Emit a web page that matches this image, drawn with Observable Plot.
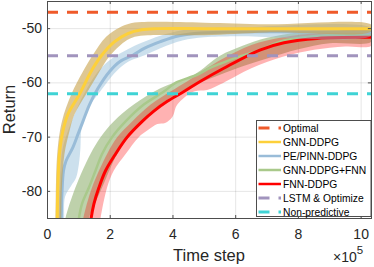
<!DOCTYPE html>
<html>
<head>
<meta charset="utf-8">
<script src="https://cdn.jsdelivr.net/npm/d3@7"></script>
<script src="https://cdn.jsdelivr.net/npm/@observablehq/plot@0.6"></script>
<style>
  body { margin: 0; background: #fff; }
  svg { display: block; }
</style>
</head>
<body>
<script>
// ---- axes ----
const xMax = 10.33;               // time step, ×10^5
const yDomain = [-85, -45];
const xTicks = [0, 2, 4, 6, 8, 10];
const yTicks = [-80, -70, -60, -50];

// ---- reference (dashed) levels ----
const refNames = ["Optimal", "LSTM & Optimize", "Non-predictive"];
const refValues = [-47, -55, -62];
const refColors = ["#ef5a2a", "#a194bd", "#3fd3d5"];

// ---- GNN-DDPG ----
const gnnX = [0.30, 0.31, 0.33, 0.38, 0.49, 0.65, 1.02, 1.39, 1.71, 2.14, 2.56, 3.0, 3.5, 5, 7, 10.33];
const gnnY = [-88, -85, -79.2, -73.1, -68.9, -65.8, -62.1, -57.9, -55.05, -52.4, -50.9, -50.2, -50, -50, -50, -50];
const gnnUpX = [0.24, 0.255, 0.31, 0.46, 0.76, 1.13, 1.44, 1.87, 2.3, 2.6, 3.0, 5, 7, 10.33];
const gnnUpY = [-88, -85, -73.1, -67.1, -62.1, -57.9, -54.9, -51.5, -49.8, -49.1, -48.8, -48.9, -49.2, -49.3];
const gnnLoX = [0.43, 0.44, 0.46, 0.54, 0.70, 0.86, 1.23, 1.66, 1.98, 2.46, 2.78, 3.2, 5, 7, 10.33];
const gnnLoY = [-88, -85, -79.2, -73.1, -68.9, -65.8, -62.1, -57.9, -55.05, -52.4, -51.5, -51.2, -51.2, -50.7, -50.5];

// ---- PE/PINN-DDPG ----
const pinnX = [0.43, 0.44, 0.46, 0.51, 0.59, 0.81, 0.97, 1.13, 1.34, 1.61, 1.98, 2.3, 2.72, 3.1, 3.6, 4.2, 4.9, 6, 8, 10.33];
const pinnY = [-88, -85, -80.5, -76.2, -74.4, -71.9, -69.5, -67.1, -64, -61, -57.9, -56.1, -54.9, -53.6, -52.4, -51.3, -50.8, -50.6, -50.6, -50.6];
const pinnUpX = [0.34, 0.35, 0.41, 0.49, 0.65, 0.86, 1.16, 1.61, 2.03, 2.56, 3.0, 3.6, 4.3, 5, 6, 10.33];
const pinnUpY = [-88, -85, -76.2, -71.9, -68.9, -65.8, -62.1, -57.9, -55.6, -53.8, -52.6, -51.3, -50.3, -49.9, -49.8, -49.9];
const pinnLoX = [0.52, 0.53, 0.56, 0.75, 0.91, 1.0, 1.05, 1.07, 1.15, 1.29, 1.61, 2.19, 2.57, 2.97, 3.6, 4.3, 5, 6, 10.33];
const pinnLoY = [-88, -85, -81, -79.0, -77.5, -75, -72, -69, -66.5, -64.6, -62.1, -57.9, -56.1, -55.2, -53.6, -52.2, -51.6, -51.4, -51.3];

// ---- GNN-DDPG+FNN ----
const gfX = [0.98, 1.0, 1.10, 1.32, 1.53, 1.74, 2.06, 2.49, 3.07, 3.71, 4.08, 4.77, 5.2, 6.16, 6.79, 7.54, 8.9, 10.33];
const gfY = [-86, -85, -82.3, -79.3, -76.2, -73.1, -70, -67.1, -64, -61.6, -60, -58.5, -57.2, -55.1, -53.9, -52.2, -51.2, -51.2];
const gfUpX = [0.55, 0.57, 0.89, 1.37, 1.69, 2.11, 2.75, 3.6, 4.67, 5.5, 6.2, 7, 8, 9, 10.33];
const gfUpY = [-86, -85, -79.3, -73.1, -70, -67.1, -64, -61, -58.5, -55.0, -53.2, -51.7, -50.7, -50.4, -50.4];
const gfLoX = [1.30, 1.32, 1.74, 2.22, 2.59, 3.07, 3.6, 4.46, 5.5, 6.2, 7, 8, 9, 10.33];
const gfLoY = [-86, -85, -79.3, -73.1, -70, -67.1, -64, -61, -58.5, -57.0, -55.5, -53.8, -52.7, -52.4];

// ---- FNN-DDPG ----
const fnnX = [1.37, 1.39, 1.48, 1.64, 1.85, 2.17, 2.54, 3.02, 3.39, 3.82, 4.35, 4.88, 5.62, 6.79, 7.54, 8.6, 10.33];
const fnnY = [-86, -85, -82.3, -79.3, -76.2, -73.1, -70, -67.1, -65.2, -63.4, -61.6, -59.7, -57.3, -53.9, -52.6, -51.8, -51.6];
const fnnUpX = [1.12, 1.14, 1.42, 1.90, 2.22, 2.70, 3.29, 3.92, 4.46, 5.0, 5.6, 6.5, 7.5, 8.5, 10.33];
const fnnUpY = [-86, -85, -79.3, -73.1, -70, -67.1, -64, -61.6, -59.7, -57.6, -55.5, -53.0, -51.6, -50.9, -50.7];
const fnnLoX = [1.67, 1.69, 1.90, 2.11, 2.49, 2.91, 3.18, 3.5, 3.75, 3.98, 4.14, 4.67, 5.09, 5.6, 6.5, 7.5, 8.5, 9.5, 10.33];
const fnnLoY = [-86, -85, -79.3, -76.2, -73.1, -70, -68.8, -67.6, -67.4, -66.3, -64, -61.6, -61.3, -60.0, -57.3, -55.2, -53.9, -53.3, -53.1];

// ---- legend ----
const legendNames = ["Optimal", "GNN-DDPG", "PE/PINN-DDPG", "GNN-DDPG+FNN", "FNN-DDPG", "LSTM & Optimize", "Non-predictive"];
const legendColors = ["#ef5a2a", "#fdd03a", "#99bcd8", "#a9c98b", "#ff0000", "#a194bd", "#3fd3d5"];
const legendDashed = [true, false, false, false, false, true, true];

const pts = (xs, ys) => xs.map((x, i) => ({x, y: ys[i]}));
const poly = (ux, uy, lx, ly) => [...pts(ux, uy), ...pts(lx, ly).reverse()];

const band = (data, fill, op) => Plot.line(data, {x: "x", y: "y", fill, fillOpacity: op, stroke: "none", curve: "catmull-rom", clip: true});
const mean = (data, stroke, w) => Plot.line(data, {x: "x", y: "y", stroke, strokeWidth: w, curve: "catmull-rom", clip: true});

const ml = 47, mr = 3, mt = 1, mb = 49, W = 374, H = 267;
const axisColor = "#4d4d4d";

const svg = Plot.plot({
  width: W, height: H,
  marginLeft: ml, marginRight: mr, marginTop: mt, marginBottom: mb,
  style: {fontFamily: "'Liberation Sans', Arial, Helvetica, sans-serif", fontSize: "14px", color: "#262626", background: "#fff"},
  x: {domain: [0, xMax]},
  y: {domain: yDomain},
  marks: [
    Plot.gridX(xTicks, {stroke: "#000", strokeOpacity: 0.1}),
    Plot.gridY(yTicks, {stroke: "#000", strokeOpacity: 0.1}),
    band(poly(gfUpX, gfUpY, gfLoX, gfLoY), "#a3bd87", 0.7),
    band(poly(fnnUpX, fnnUpY, fnnLoX, fnnLoY), "#ff0000", 0.3),
    mean(pts(gfX, gfY), "#a9c98b", 2.5),
    mean(pts(fnnX, fnnY), "#ff0000", 3),
    band(poly(pinnUpX, pinnUpY, pinnLoX, pinnLoY), "#8fbad6", 0.45),
    mean(pts(pinnX, pinnY), "#99bcd8", 3),
    band(poly(gnnUpX, gnnUpY, gnnLoX, gnnLoY), "#c8a24a", 0.6),
    mean(pts(gnnX, gnnY), "#fdd03a", 3),
    Plot.ruleY(refValues, {y: d => d, stroke: (d, i) => refColors[i], strokeWidth: 3, strokeDasharray: "11,9"}),
    Plot.ruleX(xTicks, {x: d => d, y1: yDomain[0], y2: yDomain[0] + 0.55, stroke: axisColor}),
    Plot.ruleX(xTicks, {x: d => d, y1: yDomain[1] - 0.55, y2: yDomain[1], stroke: axisColor}),
    Plot.ruleY(yTicks, {y: d => d, x1: 0, x2: 0.1, stroke: axisColor}),
    Plot.ruleY(yTicks, {y: d => d, x1: xMax - 0.1, x2: xMax, stroke: axisColor}),
    Plot.frame({stroke: axisColor}),
    Plot.axisX(xTicks, {tickSize: 0, tickPadding: 11, fontSize: 14, tickFormat: d => String(d), label: null}),
    Plot.axisY(yTicks, {tickSize: 0, tickPadding: 5.5, fontSize: 14, tickFormat: d => String(d), label: null})
  ]
});
document.body.appendChild(svg);

// overlay: axis labels, exponent, legend
const s = d3.select(svg);
const font = "'Liberation Sans', Arial, Helvetica, sans-serif";
const cx = ml + (W - ml - mr) / 2;
const cy = mt + (H - mt - mb) / 2;

s.append("text").attr("x", cx).attr("y", 261).attr("text-anchor", "middle")
  .attr("font-family", font).attr("font-size", 16.5).attr("fill", "#262626").text("Time step");
s.append("text").attr("transform", `translate(14.5,${cy}) rotate(-90)`).attr("text-anchor", "middle")
  .attr("font-family", font).attr("font-size", 16.5).attr("fill", "#262626").text("Return");
const ex = s.append("text").attr("x", 333).attr("y", 262).attr("text-anchor", "start")
  .attr("font-family", font).attr("font-size", 14).attr("fill", "#262626");
ex.append("tspan").text("×10");
ex.append("tspan").attr("dy", -8.5).attr("font-size", 11.5).text("5");

const lg = s.append("g").attr("font-family", font).attr("font-size", 10.3).attr("text-anchor", "start");
const lx = 256.5, ly = 120.5, lw = W - mr - lx, lh = H - mb - 1.5 - ly;
lg.append("rect").attr("x", lx).attr("y", ly).attr("width", lw).attr("height", lh)
  .attr("fill", "#fff").attr("stroke", axisColor);
legendNames.forEach((name, i) => {
  const y = ly + 7.5 + i * 14;
  lg.append("line").attr("x1", lx + 2).attr("x2", lx + 24.5).attr("y1", y).attr("y2", y)
    .attr("stroke", legendColors[i]).attr("stroke-width", legendDashed[i] ? 3 : 2.5)
    .attr("stroke-dasharray", legendDashed[i] ? "11,9" : null);
  lg.append("text").attr("x", lx + 26.5).attr("y", y).attr("dy", "0.36em")
    .attr("text-anchor", "start").attr("fill", "#000").text(name);
});
</script>
</body>
</html>
